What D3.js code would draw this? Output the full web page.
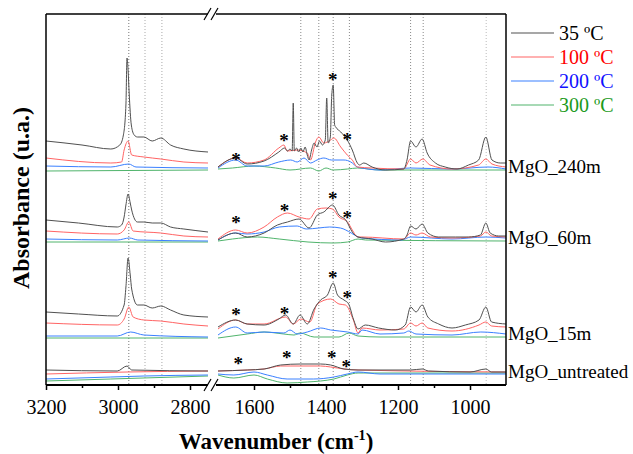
<!DOCTYPE html>
<html>
<head>
<meta charset="utf-8">
<script src="https://cdn.jsdelivr.net/npm/d3@7"></script>
<style>
  body { margin: 0; background: #fff; }
  svg { display: block; }
  svg text { font-family: "Liberation Serif", "Times New Roman", serif; }
</style>
</head>
<body>
<div id="chart"></div>
<script>
// temperatures (legend) and samples
const temps = ["35 ºC", "100 ºC", "200 ºC", "300 ºC"];
const samples = ["MgO_240m", "MgO_60m", "MgO_15m", "MgO_untreated"];

// spectra: [wavenumber, absorbance incl. stacking offset]
const m240_35 = [[3200,2.44],[3100,2.40],[3020,2.36],[2995,2.40],[2985,2.50],[2978,2.80],[2975,3.27],[2972,3.15],[2969,2.92],[2963,2.60],[2955,2.50],[2946,2.48],[2928,2.48],[2905,2.44],[2881,2.47],[2854,2.40],[2817,2.36],[2750,2.33],
  [1700,2.18],[1651,2.27],[1619,2.21],[1572,2.24],[1531,2.33],[1515,2.37],[1507,2.34],[1500,2.36],[1494,2.34],[1491,2.82],[1488,2.34],[1482,2.37],[1476,2.33],[1470,2.37],[1464,2.33],[1458,2.38],[1452,2.30],[1447,2.25],[1440,2.35],[1433,2.42],[1425,2.38],[1418,2.44],[1410,2.40],[1402,2.45],[1398,2.87],[1394,2.42],[1388,2.48],[1384,2.90],[1380,3.00],[1376,2.60],[1373,2.58],[1359,2.53],[1341,2.45],[1327,2.35],[1313,2.22],[1307,2.20],[1295,2.22],[1272,2.18],[1235,2.15],[1184,2.16],[1175,2.25],[1165,2.44],[1150,2.38],[1133,2.46],[1119,2.32],[1096,2.22],[1069,2.18],[1036,2.16],[1004,2.20],[976,2.25],[956,2.48],[939,2.25],[916,2.22],[900,2.22]];
const m240_100 = [[3200,2.27],[3020,2.22],[2990,2.23],[2983,2.35],[2972,2.44],[2962,2.30],[2928,2.28],[2881,2.26],[2817,2.23],[2750,2.22],
  [1700,2.18],[1651,2.27],[1619,2.22],[1572,2.25],[1531,2.37],[1517,2.40],[1508,2.34],[1480,2.35],[1452,2.32],[1443,2.25],[1429,2.43],[1420,2.48],[1406,2.42],[1387,2.45],[1378,2.47],[1359,2.38],[1341,2.30],[1327,2.25],[1313,2.18],[1272,2.17],[1184,2.16],[1165,2.26],[1150,2.22],[1131,2.26],[1111,2.20],[1050,2.16],[976,2.20],[956,2.26],[939,2.21],[900,2.18]];
const m240_200 = [[3200,2.19],[3020,2.18],[2970,2.21],[2950,2.18],[2750,2.17],
  [1700,2.17],[1651,2.25],[1619,2.19],[1572,2.19],[1531,2.23],[1498,2.25],[1480,2.23],[1461,2.27],[1443,2.22],[1425,2.25],[1406,2.27],[1385,2.25],[1350,2.25],[1331,2.23],[1313,2.18],[1300,2.17],[1250,2.15],[1165,2.17],[1050,2.16],[950,2.18],[900,2.16]];
const m240_300 = [[3200,2.14],[2750,2.15],
  [1700,2.16],[1660,2.17],[1600,2.19],[1540,2.17],[1500,2.15],[1443,2.17],[1420,2.14],[1400,2.17],[1380,2.15],[1340,2.16],[1313,2.17],[1250,2.15],[900,2.15]];

const m60_35 = [[3200,1.65],[3110,1.62],[3002,1.58],[2990,1.60],[2983,1.68],[2978,1.80],[2972,1.91],[2966,1.82],[2962,1.75],[2946,1.63],[2928,1.63],[2905,1.62],[2881,1.62],[2854,1.58],[2817,1.56],[2750,1.53],
  [1700,1.45],[1651,1.52],[1619,1.48],[1572,1.52],[1535,1.60],[1507,1.63],[1475,1.66],[1447,1.57],[1424,1.70],[1406,1.73],[1382,1.80],[1364,1.70],[1345,1.65],[1327,1.53],[1311,1.48],[1272,1.46],[1235,1.43],[1184,1.46],[1175,1.50],[1165,1.59],[1150,1.56],[1133,1.61],[1117,1.52],[1087,1.48],[1040,1.48],[1004,1.48],[971,1.50],[956,1.62],[944,1.52],[920,1.49],[900,1.49]];
const m60_100 = [[3200,1.54],[3002,1.51],[2983,1.55],[2970,1.63],[2958,1.54],[2881,1.52],[2817,1.49],[2750,1.48],
  [1700,1.46],[1651,1.55],[1619,1.52],[1572,1.58],[1535,1.68],[1507,1.72],[1475,1.68],[1447,1.66],[1424,1.76],[1400,1.77],[1382,1.76],[1364,1.68],[1340,1.63],[1327,1.55],[1311,1.48],[1300,1.48],[1184,1.46],[1165,1.52],[1150,1.50],[1133,1.52],[1110,1.48],[1050,1.47],[971,1.49],[956,1.53],[940,1.49],[900,1.48]];
const m60_200 = [[3200,1.46],[3002,1.45],[2968,1.47],[2945,1.45],[2750,1.44],
  [1700,1.45],[1651,1.52],[1619,1.51],[1572,1.53],[1530,1.58],[1480,1.59],[1455,1.56],[1420,1.57],[1390,1.58],[1360,1.57],[1330,1.52],[1311,1.48],[1300,1.47],[1190,1.45],[1165,1.48],[1050,1.46],[956,1.48],[900,1.47]];
const m60_300 = [[3200,1.43],[2750,1.43],
  [1700,1.44],[1660,1.46],[1590,1.48],[1530,1.46],[1450,1.43],[1380,1.42],[1340,1.43],[1311,1.46],[1290,1.45],[900,1.44]];

const m15_35 = [[3200,0.73],[3110,0.71],[3002,0.69],[2983,0.80],[2978,0.98],[2972,1.27],[2966,1.10],[2962,0.96],[2946,0.80],[2928,0.80],[2905,0.77],[2881,0.79],[2854,0.75],[2817,0.70],[2750,0.68],
  [1700,0.58],[1651,0.65],[1619,0.61],[1572,0.60],[1531,0.66],[1512,0.70],[1491,0.61],[1472,0.70],[1452,0.61],[1433,0.76],[1415,0.85],[1396,0.90],[1380,1.02],[1368,0.90],[1350,0.85],[1337,0.81],[1324,0.66],[1311,0.56],[1291,0.60],[1254,0.57],[1207,0.55],[1180,0.60],[1165,0.78],[1150,0.73],[1133,0.80],[1117,0.68],[1087,0.61],[1050,0.57],[1013,0.60],[975,0.65],[956,0.78],[940,0.63],[900,0.61]];
const m15_100 = [[3200,0.62],[3002,0.60],[2983,0.66],[2970,0.78],[2958,0.68],[2928,0.65],[2881,0.64],[2817,0.61],[2750,0.59],
  [1700,0.56],[1651,0.65],[1619,0.61],[1572,0.61],[1512,0.68],[1491,0.61],[1470,0.66],[1445,0.63],[1424,0.81],[1387,0.86],[1364,0.81],[1346,0.80],[1324,0.65],[1311,0.52],[1300,0.57],[1250,0.55],[1184,0.56],[1165,0.62],[1150,0.59],[1133,0.62],[1117,0.57],[1050,0.54],[975,0.60],[956,0.63],[940,0.59],[900,0.58]];
const m15_200 = [[3200,0.49],[3002,0.49],[2965,0.53],[2928,0.50],[2750,0.48],
  [1700,0.50],[1651,0.58],[1619,0.52],[1572,0.53],[1517,0.52],[1500,0.55],[1480,0.51],[1452,0.53],[1415,0.57],[1387,0.55],[1340,0.53],[1311,0.51],[1300,0.55],[1250,0.51],[1184,0.52],[1170,0.54],[1150,0.51],[1050,0.50],[970,0.53],[900,0.51]];
const m15_300 = [[3200,0.47],[2750,0.47],
  [1700,0.47],[1619,0.51],[1572,0.53],[1517,0.51],[1489,0.50],[1472,0.52],[1433,0.48],[1364,0.48],[1336,0.52],[1311,0.49],[1250,0.48],[900,0.48]];

const mU_35 = [[3200,0.15],[3002,0.14],[2975,0.19],[2962,0.15],[2750,0.14],
  [1700,0.14],[1619,0.15],[1572,0.16],[1526,0.20],[1470,0.21],[1415,0.21],[1387,0.20],[1350,0.16],[1311,0.15],[1165,0.15],[1133,0.16],[1115,0.14],[1000,0.13],[956,0.16],[940,0.13],[900,0.13]];
const mU_100 = [[3200,0.11],[2975,0.13],[2750,0.14],
  [1700,0.14],[1619,0.15],[1572,0.16],[1526,0.19],[1470,0.19],[1415,0.19],[1387,0.18],[1350,0.16],[1311,0.15],[900,0.13]];
const mU_200 = [[3200,0.06],[3020,0.08],[2928,0.09],[2750,0.10],
  [1700,0.11],[1656,0.10],[1600,0.13],[1563,0.10],[1508,0.06],[1434,0.06],[1378,0.08],[1341,0.11],[1311,0.13],[1250,0.11],[900,0.11]];
const mU_300 = [[3200,0.04],[3020,0.06],[2750,0.09],
  [1700,0.10],[1656,0.07],[1600,0.10],[1563,0.06],[1508,0.02],[1452,0.03],[1415,0.04],[1378,0.06],[1341,0.10],[1311,0.12],[1250,0.12],[900,0.12]];

const spectra = [
  [m240_35, m240_100, m240_200, m240_300],
  [m60_35, m60_100, m60_200, m60_300],
  [m15_35, m15_100, m15_200, m15_300],
  [mU_35, mU_100, mU_200, mU_300]
];

// band positions marked with dotted lines
const bandsHigh = [2970, 2925, 2878];
const bandsLow = [1470, 1420, 1380, 1335, 1165, 1130, 955];
// asterisks [wavenumber, absorbance]
const stars = [[1650,2.28],[1517,2.47],[1381,3.08],[1341,2.48],
  [1650,1.65],[1515,1.77],[1381,1.89],[1341,1.70],
  [1650,0.73],[1515,0.74],[1381,1.10],[1341,0.90],
  [1644,0.24],[1509,0.30],[1384,0.30],[1344,0.21]];

const majorHigh = [3200, 3000, 2800], minorHigh = [3100, 2900];
const majorLow = [1600, 1400, 1200, 1000], minorLow = [1500, 1300, 1100];

const lineColors = ["#505050", "#ff6464", "#3a80ff", "#50b46c"];
const textColors = ["#000000", "#ff0000", "#1010ff", "#1a9a1a"];

const W = 633, H = 454;
const plot = { left: 46, right: 506, top: 14, bottom: 385, gapL: 208, gapR: 218 };
const serif = '"Liberation Serif", "Times New Roman", serif';

const svg = d3.select("#chart").append("svg").attr("width", W).attr("height", H);

const xHigh = d3.scaleLinear().domain([3200, 2750]).range([plot.left, plot.gapL]);
const xLow = d3.scaleLinear().domain([1700, 900]).range([plot.gapR, plot.right]);
const y = d3.scaleLinear().domain([0, 3.71]).range([plot.bottom, plot.top]);

// dotted band lines
const bandG = svg.append("g");
bandG.selectAll("line.h").data(bandsHigh).enter().append("line")
  .attr("x1", d => xHigh(d)).attr("x2", d => xHigh(d))
  .attr("y1", plot.top).attr("y2", plot.bottom)
  .attr("stroke", (d, i) => i === 0 ? "#777" : "#aaa")
  .attr("stroke-width", 1).attr("stroke-dasharray", "1,2");
bandG.selectAll("line.l").data(bandsLow).enter().append("line")
  .attr("x1", d => xLow(d)).attr("x2", d => xLow(d))
  .attr("y1", plot.top).attr("y2", plot.bottom)
  .attr("stroke", d => d === 955 ? "#bbb" : "#888")
  .attr("stroke-width", 1).attr("stroke-dasharray", "1,2");

// spectra, split into the two wavenumber windows
const lineHigh = d3.line().x(d => xHigh(d[0])).y(d => y(d[1])).curve(d3.curveMonotoneX);
const lineLow = d3.line().x(d => xLow(d[0])).y(d => y(d[1])).curve(d3.curveMonotoneX);

const specG = svg.append("g");
spectra.forEach(group => {
  // draw 300 -> 35 so the black trace ends on top
  for (let t = 3; t >= 0; t--) {
    const s = group[t];
    specG.append("path").attr("d", lineHigh(s.filter(d => d[0] > 2000)))
      .attr("fill", "none").attr("stroke", lineColors[t]).attr("stroke-width", 1);
    specG.append("path").attr("d", lineLow(s.filter(d => d[0] < 2000)))
      .attr("fill", "none").attr("stroke", lineColors[t]).attr("stroke-width", 1);
  }
});

// asterisks
svg.selectAll("text.star").data(stars).enter().append("text")
  .attr("class", "star")
  .attr("x", d => xLow(d[0])).attr("y", d => y(d[1]) + 9)
  .attr("text-anchor", "middle")
  .style("font-size", "19px").style("font-weight", "bold")
  .text("*");

// frame
const frame = svg.append("g").attr("stroke", "#000").attr("fill", "none");
frame.append("line").attr("x1", plot.left).attr("x2", plot.left).attr("y1", plot.top).attr("y2", plot.bottom).attr("stroke-width", 1.5);
frame.append("line").attr("x1", plot.right).attr("x2", plot.right).attr("y1", plot.top).attr("y2", plot.bottom).attr("stroke-width", 1.5);
[[plot.left, 208], [216, plot.right]].forEach(([a, b]) => {
  frame.append("line").attr("x1", a).attr("x2", b).attr("y1", plot.top).attr("y2", plot.top).attr("stroke-width", 1.5);
  frame.append("line").attr("x1", a).attr("x2", b).attr("y1", plot.bottom).attr("y2", plot.bottom).attr("stroke-width", 2);
});
// axis break marks
[plot.top, plot.bottom].forEach(yy => {
  [0, 7].forEach(dx => {
    frame.append("line")
      .attr("x1", 204 + dx).attr("y1", yy + 6)
      .attr("x2", 211 + dx).attr("y2", yy - 6)
      .attr("stroke-width", 1.2);
  });
});

// bottom axes
function addAxis(scale, major, minor) {
  const gMaj = svg.append("g").attr("transform", `translate(0,${plot.bottom})`)
    .call(d3.axisBottom(scale).tickValues(major).tickSize(5).tickSizeOuter(0).tickPadding(10).tickFormat(d3.format("d")));
  const gMin = svg.append("g").attr("transform", `translate(0,${plot.bottom})`)
    .call(d3.axisBottom(scale).tickValues(minor).tickSize(3).tickSizeOuter(0).tickFormat(""));
  [gMaj, gMin].forEach(g => {
    g.attr("font-family", serif);
    g.select(".domain").remove();
    g.selectAll("line").attr("stroke", "#000").attr("stroke-width", 1.5);
  });
  gMaj.selectAll("text")
    .style("font-size", "20px").attr("fill", "#000");
}
addAxis(xHigh, majorHigh, minorHigh);
addAxis(xLow, majorLow, minorLow);

// axis titles
const xTitle = svg.append("text")
  .attr("x", 276).attr("y", 449)
  .attr("text-anchor", "middle")
  .style("font-size", "23px").style("font-weight", "bold");
xTitle.append("tspan").text("Wavenumber (cm");
xTitle.append("tspan").attr("dy", -9).style("font-size", "14px").text("-1");
xTitle.append("tspan").attr("dy", 9).text(")");

svg.append("text")
  .attr("transform", "translate(29,198) rotate(-90)")
  .attr("text-anchor", "middle")
  .style("font-size", "24px").style("font-weight", "bold")
  .text("Absorbance (u.a.)");

// legend
const legend = svg.append("g").attr("transform", "translate(511,33)");
temps.forEach((t, i) => {
  const row = legend.append("g").attr("transform", `translate(0,${i * 24})`);
  row.append("line").attr("x1", 0).attr("x2", 43).attr("y1", 0).attr("y2", 0)
    .attr("stroke", lineColors[i]).attr("stroke-width", 1.2);
  row.append("text").attr("x", 48).attr("y", 7)
    .style("font-size", "20px").attr("fill", textColors[i]).text(t);
});

// sample labels, placed at the end of each 300 ºC trace
samples.forEach((s, i) => {
  const last = spectra[i][3][spectra[i][3].length - 1];
  svg.append("text")
    .attr("x", plot.right + 2).attr("y", y(last[1]) + (i === 3 ? 5 : 3))
    .style("font-size", "19px").attr("fill", "#000").text(s);
});
</script>
</body>
</html>
